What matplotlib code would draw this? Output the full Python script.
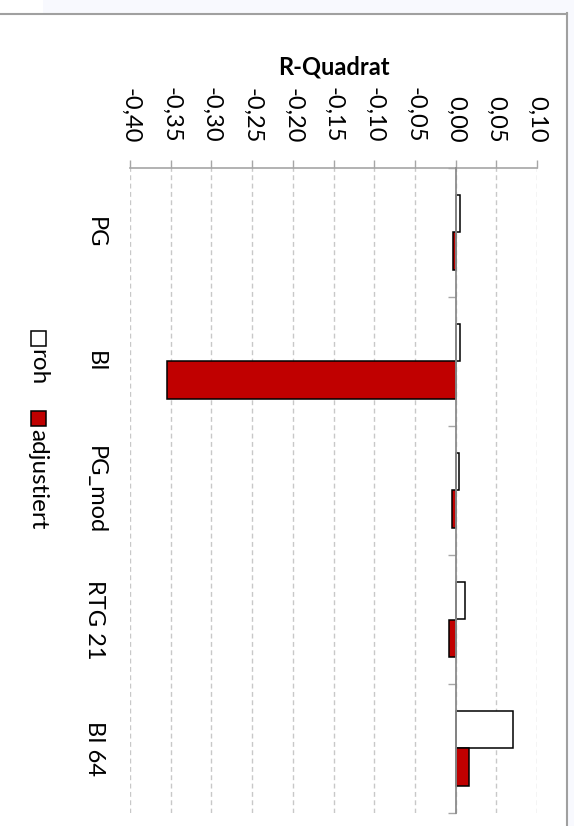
import matplotlib as mlp
mlp.use('Agg')
import matplotlib.pyplot as plt
from matplotlib.lines import Line2D
from matplotlib.patches import Rectangle
from matplotlib.ticker import FixedLocator, FuncFormatter
import matplotlib.transforms as mtransforms

categories = ['PG', 'BI', 'PG_mod', 'RTG 21', 'BI 64']
roh = [0.005, 0.006, 0.004, 0.011, 0.071]
adjustiert = [-0.003, -0.355, -0.004, -0.008, 0.017]
value_ticks = [-0.40, -0.35, -0.30, -0.25, -0.20, -0.15, -0.10, -0.05,
               0.00, 0.05, 0.10]

RED = '#c00000'
GRID = '#c8c8c8'
AXIS = '#a6a6a6'
PAGE = '#f8f9fe'
FONT = 'Lato'
FS = 17

W, H = 574, 826
plt.rcParams['font.family'] = [FONT, 'DejaVu Sans']
plt.rcParams['lines.scale_dashes'] = False

fig = plt.figure(figsize=(W / 100, H / 100), dpi=100, facecolor='white')


def fx(px):
    return px / W


def fy(px):
    return 1 - px / H


# Page background and chart frame.
fig.patches.append(Rectangle((fx(43), fy(13)), 1, 13 / H, transform=fig.transFigure,
                             facecolor=PAGE, edgecolor='none', zorder=0))
fig.patches.append(Rectangle((fx(567), 0), 1, 1, transform=fig.transFigure,
                             facecolor=PAGE, edgecolor='none', zorder=0))
fig.lines.append(Line2D([0, fx(567)], [fy(13.5), fy(13.5)], transform=fig.transFigure,
                        color='#a0a0a0', lw=1.5))
fig.lines.append(Line2D([fx(566.5), fx(566.5)], [fy(13), 0], transform=fig.transFigure,
                        color='#a0a0a0', lw=1.5))

# Plot area (column chart turned 90 degrees clockwise).
ax = fig.add_axes([fx(130), 1 - 813 / H, 407 / W, 645 / H])
ax.set_facecolor('none')
n = len(categories)
pos = list(range(n))
bh = 0.29
ax.barh([p - bh / 2 for p in pos], roh, height=bh, color='white',
        edgecolor='black', linewidth=1.1, zorder=2, label='roh')
ax.barh([p + bh / 2 for p in pos], adjustiert, height=bh, color=RED,
        edgecolor='black', linewidth=1.1, zorder=2, label='adjustiert')

ax.set_xlim(-0.40, 0.10)
ax.set_ylim(n - 0.5, -0.5)

# Value axis on top.
for s in ['right', 'bottom']:
    ax.spines[s].set_visible(False)
ax.spines['top'].set_color(AXIS)
ax.spines['top'].set_linewidth(1.2)
ax.spines['left'].set_position(('data', 0))
ax.spines['left'].set_color('#8c8c8c')
ax.spines['left'].set_linewidth(1.3)
ax.spines['left'].set_zorder(3)

ax.xaxis.set_ticks_position('top')
ax.xaxis.set_major_locator(FixedLocator(value_ticks))
ax.xaxis.set_major_formatter(
    FuncFormatter(lambda v, _: ('%.2f' % v).replace('.', ',').replace('-0,00', '0,00')))
ax.tick_params(axis='x', which='major', direction='out', length=6, width=1.0,
               color=AXIS, pad=12, labelsize=FS, labelrotation=-90)
for v in value_ticks:
    ax.axvline(v, color=GRID, lw=1.0, dashes=(3.5, 2.5), zorder=1)

ax.set_xlabel('R-Quadrat', fontsize=FS, fontweight='bold', labelpad=9)
ax.xaxis.set_label_position('top')

# Category axis sits on zero, ticks between categories.
ax.yaxis.set_major_locator(FixedLocator([p + 0.5 for p in range(-1, n)]))
ax.yaxis.set_major_formatter(FuncFormatter(lambda v, _: ''))
ax.tick_params(axis='y', which='major', direction='out', length=6, width=1.0,
               color=AXIS)
trans = mtransforms.blended_transform_factory(ax.transAxes, ax.transData)
for p, c in zip(pos, categories):
    ax.text(-35 / 407, p, c, transform=trans, rotation=-90, ha='center',
            va='center', fontsize=FS)

# Legend, turned like the chart.
for (yp, label, col) in [(330, 'roh', 'white'), (410, 'adjustiert', RED)]:
    fig.patches.append(Rectangle((fx(30.5), fy(yp + 15.5)), 15 / W, 15 / H,
                                 transform=fig.transFigure, facecolor=col,
                                 edgecolor='black', linewidth=1.1))
    fig.text(fx(38), fy(yp + 19), label, rotation=-90, ha='center', va='top',
             fontsize=FS + 0.5)

fig.savefig('out.png', dpi=100)
